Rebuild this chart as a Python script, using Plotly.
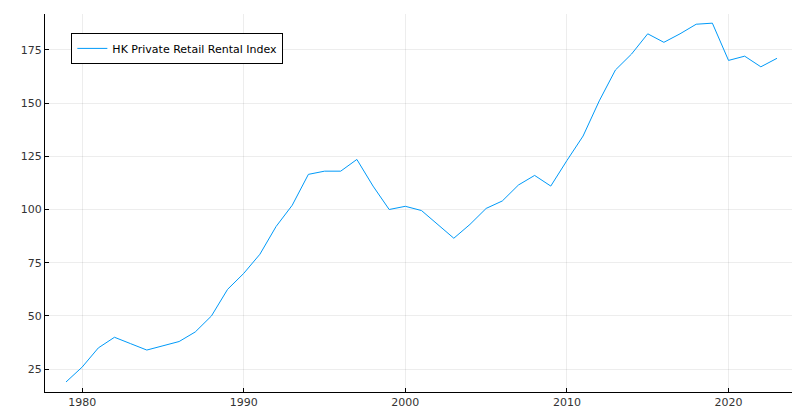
import plotly.graph_objects as go

years = list(range(1979, 2024))
index_values = [19, 26, 35, 40, 37, 34, 36, 38, 42.5, 50, 62.5, 70, 79, 92, 102,
                116.5, 118, 118, 123.5, 111, 100, 101.5, 99.5, 93, 86.5, 93, 100.5,
                104, 111.5, 116, 111, 123, 134.5, 151, 165.5, 173, 182.5, 178.5,
                182.5, 187, 187.5, 170, 172, 167, 171]
x_ticks = [1980, 1990, 2000, 2010, 2020]
y_ticks = [25, 50, 75, 100, 125, 150, 175]

fig = go.Figure()
fig.add_trace(go.Scatter(x=years, y=index_values, mode="lines",
                         line=dict(color="#009af9", width=1),
                         name="HK Private Retail Rental Index"))

axis_common = dict(showgrid=True, gridcolor="rgba(0,0,0,0.07)", zeroline=False,
                   showline=True, linecolor="black", linewidth=1,
                   ticks="inside", ticklen=4, tickcolor="black",
                   tickfont=dict(size=11, color="#333"))
fig.update_xaxes(range=[1977.7, 2024.3], tickvals=x_ticks, **axis_common)
fig.update_yaxes(range=[14.3, 191.8], tickvals=y_ticks, **axis_common)

fig.update_layout(
    width=800, height=420,
    margin=dict(l=37, r=10, t=6, b=36),
    plot_bgcolor="white", paper_bgcolor="white",
    font=dict(family="DejaVu Sans", size=12, color="black"),
    showlegend=True,
    legend=dict(x=0.035, y=0.95, xanchor="left", yanchor="top",
                bordercolor="black", borderwidth=1, bgcolor="white",
                font=dict(size=11)),
)

fig.write_html("out.html")
